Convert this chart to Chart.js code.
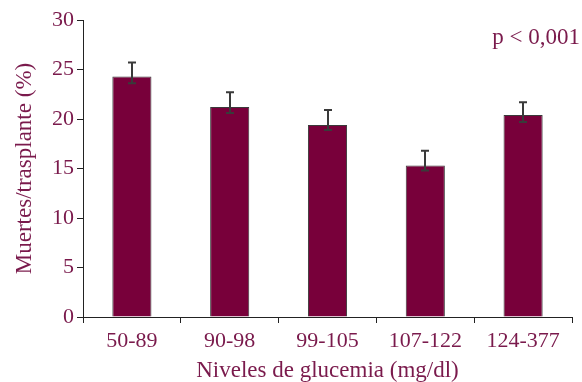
<!DOCTYPE html>
<html>
<head>
<meta charset="utf-8">
<script src="https://cdn.jsdelivr.net/npm/chart.js@4.4.1/dist/chart.umd.min.js"></script>
<style>
  html, body { margin: 0; padding: 0; background: #ffffff; }
  #wrap { width: 582px; height: 382px; }
</style>
</head>
<body>
<div id="wrap"><canvas id="c" width="582" height="382"></canvas></div>
<script>
// Glucemia ranges and mortality per transplant (%)
const categories = ['50-89', '90-98', '99-105', '107-122', '124-377'];
const mortality = [24.3, 21.2, 19.4, 15.3, 20.4];
// Error bar ends (%)
const errUpper = [25.7, 22.7, 20.9, 16.8, 21.7];
const errLower = [23.6, 20.6, 18.9, 14.8, 19.7];
const yTicks = [0, 5, 10, 15, 20, 25, 30];
const pLabel = 'p < 0,001';

const TEXT = '#7a1a4c';
const BAR = '#78003a';
const FONT = "'Liberation Serif', 'DejaVu Serif', serif";

const errorBars = {
  id: 'errorBars',
  afterDatasetsDraw(chart) {
    const ctx = chart.ctx;
    const meta = chart.getDatasetMeta(0);
    const y = chart.scales.y;
    ctx.save();
    ctx.strokeStyle = '#3a3a3a';
    ctx.lineWidth = 2;
    meta.data.forEach((bar, i) => {
      const x = Math.round(bar.x);
      const yt = y.getPixelForValue(errUpper[i]);
      const yb = y.getPixelForValue(errLower[i]);
      ctx.beginPath();
      ctx.moveTo(x, yt); ctx.lineTo(x, yb);
      ctx.moveTo(x - 4, yt); ctx.lineTo(x + 4, yt);
      ctx.moveTo(x - 4, yb); ctx.lineTo(x + 4, yb);
      ctx.stroke();
    });
    ctx.restore();
  }
};

const pValue = {
  id: 'pValue',
  afterDraw(chart) {
    const ctx = chart.ctx;
    const a = chart.chartArea;
    ctx.save();
    ctx.fillStyle = TEXT;
    ctx.font = '23px ' + FONT;
    ctx.textAlign = 'right';
    ctx.textBaseline = 'middle';
    ctx.fillText(pLabel, a.right + 8, a.top + 18);
    ctx.restore();
  }
};

new Chart(document.getElementById('c'), {
  type: 'bar',
  data: {
    labels: categories,
    datasets: [{
      data: mortality,
      backgroundColor: BAR,
      borderColor: '#3a3a3a',
      borderWidth: 1,
      barPercentage: 0.8,
      categoryPercentage: 0.5
    }]
  },
  options: {
    responsive: false,
    animation: false,
    layout: { padding: { top: 20, right: 10, left: 0, bottom: 0 } },
    plugins: { legend: { display: false }, tooltip: { enabled: false } },
    scales: {
      x: {
        afterFit(scale) { scale.height = 65; },
        grid: { drawOnChartArea: false, offset: true, color: '#222', tickLength: 6 },
        border: { color: '#222', width: 1 },
        ticks: { color: TEXT, font: { family: FONT, size: 22 }, padding: 5 },
        title: { display: true, text: 'Niveles de glucemia (mg/dl)', color: TEXT, font: { family: FONT, size: 23 }, padding: { top: 0, bottom: -3 } }
      },
      y: {
        min: 0, max: 30,
        afterBuildTicks(scale) { scale.ticks = yTicks.map(v => ({ value: v })); },
        afterFit(scale) { scale.width = 83; },
        grid: { drawOnChartArea: false, color: '#222', tickLength: 6 },
        border: { color: '#222', width: 1 },
        ticks: { color: TEXT, font: { family: FONT, size: 22 }, padding: 3 },
        title: { display: true, text: 'Muertes/trasplante (%)', color: TEXT, font: { family: FONT, size: 23 }, padding: { top: 11, bottom: 0 } }
      }
    }
  },
  plugins: [errorBars, pValue]
});
</script>
</body>
</html>
